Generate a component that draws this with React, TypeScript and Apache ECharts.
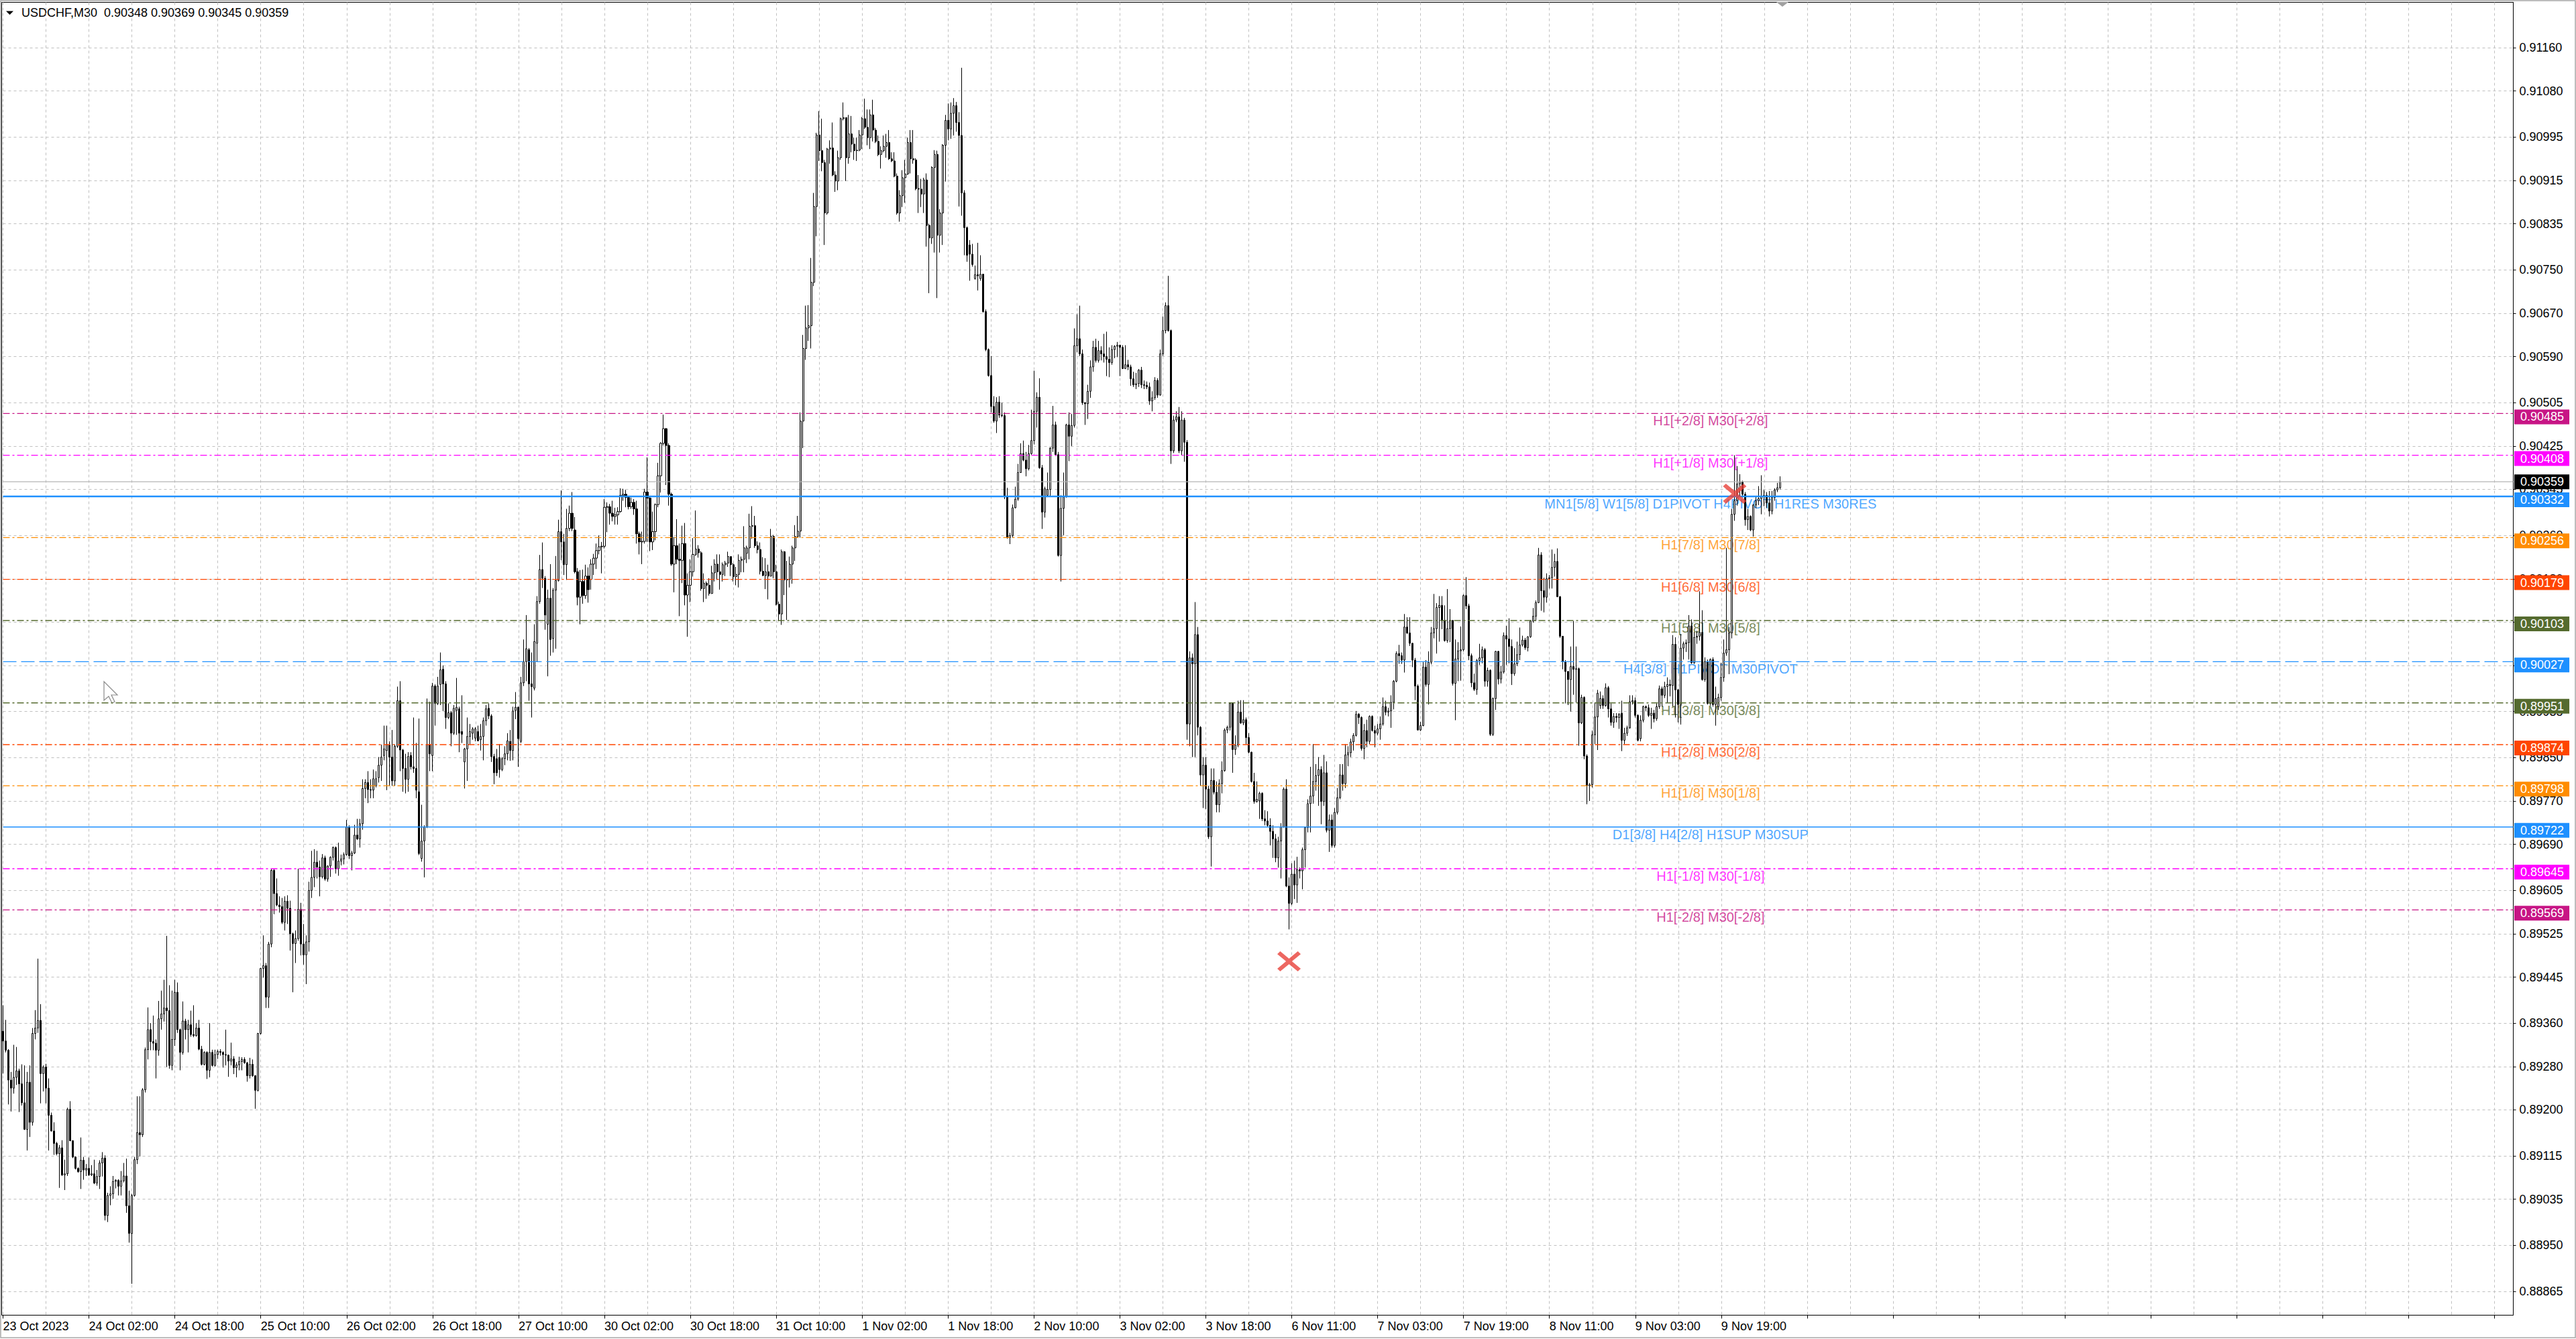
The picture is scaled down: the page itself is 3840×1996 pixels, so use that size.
import { useEffect, useRef } from 'react';
import * as echarts from 'echarts';

// ---------- chart data ----------
const symbolName = 'USDCHF,M30';
const lastQuote = [0.90348, 0.90369, 0.90345, 0.90359]; // open high low close of the last bar
const bidPrice = 0.90359;

const timeLabels = [
  '23 Oct 2023', '24 Oct 02:00', '24 Oct 18:00', '25 Oct 10:00', '26 Oct 02:00', '26 Oct 18:00',
  '27 Oct 10:00', '30 Oct 02:00', '30 Oct 18:00', '31 Oct 10:00', '1 Nov 02:00', '1 Nov 18:00',
  '2 Nov 10:00', '3 Nov 02:00', '3 Nov 18:00', '6 Nov 11:00', '7 Nov 03:00', '7 Nov 19:00',
  '8 Nov 11:00', '9 Nov 03:00', '9 Nov 19:00',
];

const yTicks = [
  0.9116, 0.9108, 0.90995, 0.90915, 0.90835, 0.9075, 0.9067, 0.9059, 0.90505, 0.90425,
  0.90345, 0.9026, 0.9018, 0.901, 0.9002, 0.89935, 0.8985, 0.8977, 0.8969, 0.89605,
  0.89525, 0.89445, 0.8936, 0.8928, 0.892, 0.89115, 0.89035, 0.8895, 0.88865,
];

const levelPrices = [0.90485, 0.90408, 0.90332, 0.90256, 0.90179, 0.90103, 0.90027, 0.89951, 0.89874, 0.89798, 0.89722, 0.89645, 0.89569];
const levelNames = [
  'H1[+2/8] M30[+2/8]', 'H1[+1/8] M30[+1/8]', 'MN1[5/8] W1[5/8] D1PIVOT H4PIVOT H1RES M30RES',
  'H1[7/8] M30[7/8]', 'H1[6/8] M30[6/8]', 'H1[5/8] M30[5/8]', 'H4[3/8] H1PIVOT M30PIVOT',
  'H1[3/8] M30[3/8]', 'H1[2/8] M30[2/8]', 'H1[1/8] M30[1/8]', 'D1[3/8] H4[2/8] H1SUP M30SUP',
  'H1[-1/8] M30[-1/8]', 'H1[-2/8] M30[-2/8]',
];
const levelColors = ['#C71585', '#FF00FF', '#1E90FF', '#FF8C00', '#FF4500', '#556B2F', '#1E90FF', '#556B2F', '#FF4500', '#FF8C00', '#1E90FF', '#FF00FF', '#C71585'];
const levelKinds = ['dashdot', 'dashdot', 'solid', 'dashdot', 'dashdot', 'dashdot', 'dashed', 'dashdot', 'dashdot', 'dashdot', 'solid', 'dashdot', 'dashdot'];
const levelWidths = [1.4, 1.4, 2.6, 1.4, 1.4, 1.4, 1.4, 1.4, 1.4, 1.4, 1.6, 1.4, 1.4];

const crossMarks = [[479, 0.89474], [645, 0.90337]];

// OHLC bars in 1e-5 units: [open, high, low, close], 32 bars per block
const oct23_10 = [
  [89345,89393,89267,89327],[89327,89366,89306,89310],[89310,89312,89210,89255],[89255,89270,89197,89240],
  [89240,89320,89230,89260],[89260,89316,89246,89272],[89272,89276,89196,89248],[89248,89284,89208,89213],
  [89213,89282,89163,89164],[89164,89270,89125,89251],[89251,89282,89150,89177],[89177,89351,89171,89341],
  [89341,89384,89330,89351],[89351,89479,89342,89365],[89365,89395,89212,89267],[89267,89282,89234,89279],
  [89279,89285,89212,89240],[89240,89258,89125,89190],[89190,89195,89160,89161],[89161,89177,89117,89138],
  [89138,89141,89116,89119],[89119,89135,89056,89130],[89130,89144,89078,89080],[89080,89108,89052,89082],
  [89082,89204,89078,89201],[89201,89216,89142,89143],[89143,89144,89111,89113],[89113,89114,89090,89092],
  [89092,89094,89084,89086],[89086,89149,89054,89107],[89107,89113,89071,89089],[89089,89100,89078,89092],
];
const oct24_02 = [
  [89092,89112,89078,89080],[89080,89098,89078,89082],[89082,89108,89063,89065],[89065,89089,89060,89077],
  [89077,89107,89054,89102],[89102,89122,89077,89111],[89111,89116,88996,89005],[89005,89047,88993,89042],
  [89042,89059,89024,89045],[89045,89078,89036,89068],[89068,89072,89055,89070],[89070,89072,89042,89059],
  [89059,89087,89042,89069],[89069,89102,89066,89078],[89078,89110,89010,89023],[89023,89051,88955,88972],
  [88972,89045,88879,89042],[89042,89113,89040,89108],[89108,89225,89100,89158],[89158,89225,89114,89154],
  [89154,89240,89150,89237],[89237,89315,89232,89311],[89311,89389,89293,89348],[89348,89360,89310,89326],
  [89326,89374,89310,89323],[89323,89330,89258,89310],[89310,89401,89300,89368],[89368,89420,89348,89377],
  [89377,89440,89363,89388],[89388,89521,89279,89383],[89383,89430,89276,89282],[89282,89420,89273,89330],
];
const oct24_18 = [
  [89330,89440,89318,89417],[89417,89435,89342,89348],[89348,89350,89273,89306],[89306,89400,89302,89364],
  [89364,89368,89330,89348],[89348,89366,89306,89357],[89357,89383,89335,89339],[89339,89393,89334,89337],
  [89337,89360,89335,89351],[89351,89366,89310,89312],[89312,89318,89282,89284],[89284,89308,89282,89306],
  [89306,89308,89257,89273],[89273,89360,89260,89306],[89306,89311,89280,89282],[89282,89311,89280,89302],
  [89302,89311,89294,89308],[89308,89312,89300,89306],[89306,89308,89278,89302],[89302,89348,89282,89301],
  [89301,89302,89261,89290],[89290,89324,89282,89294],[89294,89299,89266,89278],[89278,89288,89260,89283],
  [89283,89298,89273,89289],[89289,89297,89273,89293],[89293,89297,89285,89287],[89287,89288,89252,89263],
  [89263,89296,89258,89284],[89284,89293,89261,89263],[89263,89264,89202,89236],[89236,89342,89234,89341],
];
const oct25_10 = [
  [89341,89462,89339,89461],[89461,89522,89444,89466],[89466,89471,89388,89408],[89408,89510,89388,89506],
  [89506,89645,89500,89642],[89642,89645,89561,89599],[89599,89627,89576,89578],[89578,89594,89564,89575],
  [89575,89591,89543,89546],[89546,89594,89531,89585],[89585,89596,89543,89572],[89572,89586,89494,89525],
  [89525,89527,89417,89507],[89507,89531,89471,89516],[89516,89645,89512,89570],[89570,89582,89485,89506],
  [89506,89543,89468,89486],[89486,89522,89432,89510],[89510,89621,89492,89605],[89605,89678,89591,89629],
  [89629,89681,89611,89657],[89657,89678,89627,89648],[89648,89660,89594,89630],[89630,89672,89627,89665],
  [89665,89669,89623,89626],[89626,89651,89621,89650],[89650,89668,89630,89666],[89666,89686,89660,89684],
  [89684,89686,89636,89645],[89645,89693,89632,89659],[89659,89671,89651,89663],[89663,89675,89653,89671],
];
const oct26_02 = [
  [89671,89735,89669,89722],[89722,89725,89663,89669],[89669,89678,89642,89674],[89674,89726,89672,89707],
  [89707,89737,89698,89700],[89700,89737,89684,89728],[89728,89810,89717,89793],[89793,89810,89775,89804],
  [89804,89825,89766,89791],[89791,89810,89775,89790],[89790,89828,89775,89811],[89798,89825,89795,89811],
  [89813,89851,89804,89836],[89836,89874,89807,89851],[89854,89909,89845,89866],[89863,89909,89790,89874],
  [89873,89880,89798,89851],[89851,89901,89798,89807],[89807,89874,89798,89871],[89871,89981,89868,89955],
  [89955,89991,89825,89864],[89864,89866,89787,89830],[89830,89857,89784,89810],[89810,89860,89787,89852],
  [89854,89860,89828,89833],[89833,89924,89822,89830],[89830,89877,89775,89790],[89787,89922,89670,89673],
  [89664,89763,89658,89696],[89696,89725,89629,89722],[89722,89959,89720,89874],[89874,89953,89825,89857],
];
const oct26_18 = [
  [89854,89988,89825,89982],[89982,89985,89909,89950],[89950,89999,89947,89982],[89985,90044,89947,90012],
  [90013,90020,89936,89986],[89986,89991,89903,89924],[89924,89950,89921,89933],[89933,89936,89871,89895],
  [89895,89947,89892,89941],[89937,89997,89892,89943],[89940,89944,89860,89895],[89898,89965,89877,89893],
  [89842,89868,89793,89866],[89866,89924,89807,89889],[89889,89912,89874,89898],[89895,89906,89883,89903],
  [89886,89906,89880,89903],[89898,89909,89880,89881],[89883,89912,89863,89889],[89889,89924,89845,89918],
  [89918,89947,89909,89940],[89941,89950,89921,89927],[89927,89930,89842,89852],[89852,89857,89801,89822],
  [89848,89866,89816,89822],[89850,89875,89813,89828],[89828,89851,89825,89848],[89848,89871,89836,89857],
  [89857,89895,89845,89881],[89880,89901,89844,89863],[89863,89944,89845,89936],[89937,89971,89921,89943],
];
const oct27_10 = [
  [89943,89944,89833,89885],[89880,89999,89877,89988],[89988,90068,89982,90027],[90027,90113,89991,90051],
  [90049,90052,89955,89986],[89986,90044,89924,89981],[89978,90096,89974,90064],[90061,90148,90027,90138],
  [90138,90224,90134,90197],[90197,90247,90163,90181],[90181,90185,90086,90113],[90096,90160,90000,90144],
  [90144,90207,90038,90068],[90070,90163,90044,90159],[90159,90222,90051,90177],[90177,90289,90175,90267],
  [90267,90343,90214,90248],[90248,90263,90187,90206],[90206,90309,90178,90273],[90273,90315,90268,90301],
  [90301,90340,90268,90273],[90270,90294,90190,90193],[90193,90200,90131,90146],[90146,90196,90096,90175],
  [90175,90197,90134,90149],[90149,90206,90143,90185],[90185,90201,90136,90160],[90179,90216,90160,90207],
  [90207,90226,90187,90218],[90218,90245,90198,90232],[90232,90260,90225,90239],[90239,90248,90190,90240],
];
const oct30_02 = [
  [90240,90327,90236,90312],[90312,90321,90266,90313],[90313,90318,90280,90301],[90301,90324,90286,90295],
  [90295,90311,90280,90298],[90298,90312,90280,90304],[90304,90347,90302,90334],[90334,90346,90324,90336],
  [90336,90344,90312,90330],[90330,90333,90308,90313],[90313,90330,90309,90321],[90321,90327,90298,90309],
  [90309,90324,90245,90263],[90263,90267,90225,90248],[90248,90267,90207,90249],[90249,90346,90245,90340],
  [90340,90404,90248,90329],[90329,90333,90231,90248],[90248,90304,90233,90267],[90267,90319,90251,90317],
  [90317,90394,90312,90370],[90370,90432,90339,90430],[90430,90483,90426,90457],[90457,90458,90353,90426],
  [90426,90430,90315,90336],[90336,90339,90204,90207],[90207,90257,90155,90241],[90241,90290,90207,90216],
  [90216,90245,90111,90214],[90214,90278,90172,90245],[90245,90283,90131,90150],[90150,90190,90073,90168],
];
const oct30_18 = [
  [90168,90216,90137,90193],[90193,90255,90184,90225],[90225,90306,90222,90235],[90235,90242,90219,90228],
  [90228,90231,90158,90162],[90162,90190,90137,90172],[90172,90175,90143,90168],[90168,90181,90149,90153],
  [90153,90204,90152,90191],[90191,90216,90175,90207],[90207,90225,90178,90193],[90193,90225,90160,90188],
  [90188,90210,90175,90206],[90206,90213,90185,90209],[90209,90230,90202,90221],[90221,90221,90185,90206],
  [90206,90209,90175,90184],[90184,90202,90168,90188],[90188,90225,90164,90214],[90214,90221,90192,90216],
  [90216,90277,90192,90237],[90227,90241,90209,90237],[90237,90300,90216,90277],[90277,90314,90254,90278],
  [90278,90296,90237,90241],[90241,90249,90227,90234],[90234,90247,90188,90194],[90194,90220,90185,90186],
  [90186,90218,90161,90193],[90193,90206,90142,90185],[90185,90272,90184,90258],[90258,90261,90181,90193],
];
const oct31_10 = [
  [90193,90206,90131,90133],[90133,90138,90102,90115],[90115,90234,90095,90230],[90230,90231,90150,90178],
  [90178,90213,90104,90179],[90179,90221,90164,90207],[90207,90241,90171,90237],[90237,90279,90213,90258],
  [90258,90296,90256,90268],[90268,90487,90256,90471],[90471,90630,90421,90605],[90605,90684,90584,90643],
  [90643,90685,90619,90647],[90647,90772,90605,90727],[90727,90892,90720,90867],[90867,91003,90812,90999],
  [90999,91043,90951,90970],[90970,91029,90932,90948],[90948,90953,90796,90855],[90855,90975,90852,90973],
  [90973,90989,90946,90975],[90975,91022,90923,90925],[90925,90932,90894,90914],[90914,90970,90897,90957],
  [90957,91031,90953,91029],[91029,91059,91026,91031],[91031,91031,90914,90957],[90957,91036,90946,91001],
  [91001,91034,90967,90982],[90982,90994,90953,90970],[90970,90994,90951,90971],[90971,91008,90969,90999],
];
const nov01_02 = [
  [90999,91032,90973,91029],[91029,91066,91010,91013],[91013,91046,90980,90994],[90994,91046,90973,91036],
  [91036,91064,90987,91008],[91008,91012,90984,90987],[90987,90998,90960,90963],[90963,90978,90937,90970],
  [90970,90998,90967,90978],[90978,91001,90957,90985],[90985,91008,90953,90955],[90955,90967,90949,90951],
  [90951,90967,90921,90923],[90923,90928,90852,90855],[90855,90897,90839,90887],[90887,90934,90866,90920],
  [90920,90953,90874,90927],[90927,90994,90925,90985],[90985,91008,90928,90955],[90955,91008,90946,90953],
  [90953,90956,90897,90900],[90900,90925,90855,90899],[90899,90918,90866,90890],[90890,90920,90855,90916],
  [90916,90928,90793,90832],[90832,90835,90707,90809],[90809,90941,90798,90939],[90939,90971,90782,90963],
  [90963,90970,90698,90814],[90814,90862,90782,90855],[90855,90982,90796,90980],[90980,91036,90913,91026],
];
const nov01_18 = [
  [91026,91057,90989,91010],[91010,91059,90992,91039],[91039,91067,90998,91053],[91053,91060,91005,91022],
  [91022,91041,90867,90998],[90998,91123,90850,90892],[90892,90897,90777,90828],[90828,90830,90765,90777],
  [90796,90805,90730,90779],[90779,90798,90756,90760],[90734,90758,90732,90741],[90741,90800,90712,90739],
  [90734,90777,90730,90742],[90742,90742,90671,90673],[90673,90677,90600,90603],[90603,90605,90553,90555],
  [90555,90591,90487,90498],[90498,90517,90468,90471],[90471,90515,90449,90506],[90506,90517,90477,90482],
  [90482,90505,90478,90481],[90481,90487,90327,90331],[90331,90348,90254,90256],[90256,90265,90244,90260],
  [90260,90317,90256,90311],[90311,90350,90310,90327],[90327,90392,90324,90376],[90376,90430,90376,90411],
  [90411,90435,90397,90399],[90399,90414,90369,90383],[90383,90427,90380,90411],[90411,90492,90409,90435],
];
const nov02_10 = [
  [90435,90564,90428,90489],[90489,90524,90459,90515],[90515,90550,90383,90385],[90385,90390,90272,90303],
  [90303,90350,90293,90346],[90334,90376,90331,90345],[90345,90423,90331,90421],[90421,90499,90414,90464],
  [90464,90470,90407,90409],[90409,90414,90221,90223],[90223,90334,90175,90310],[90310,90376,90260,90331],
  [90331,90466,90330,90464],[90464,90487,90397,90443],[90443,90484,90425,90463],[90463,90642,90459,90610],
  [90610,90668,90598,90623],[90623,90684,90591,90595],[90595,90603,90501,90505],[90505,90506,90464,90503],
  [90503,90538,90475,90526],[90526,90583,90514,90571],[90571,90619,90562,90607],[90607,90623,90579,90583],
  [90583,90619,90579,90601],[90601,90609,90583,90595],[90595,90632,90579,90590],[90590,90636,90554,90585],
  [90585,90607,90552,90579],[90579,90611,90575,90603],[90603,90611,90587,90609],[90609,90617,90589,90611],
];
const nov03_02 = [
  [90611,90612,90554,90607],[90607,90611,90567,90568],[90568,90611,90567,90575],[90575,90584,90565,90571],
  [90571,90575,90536,90549],[90549,90562,90534,90538],[90538,90560,90530,90540],[90540,90567,90534,90565],
  [90565,90571,90532,90538],[90538,90546,90530,90537],[90537,90544,90530,90534],[90534,90542,90501,90508],
  [90508,90526,90489,90514],[90514,90552,90510,90546],[90546,90550,90514,90519],[90519,90603,90518,90595],
  [90595,90664,90591,90638],[90638,90690,90633,90684],[90684,90739,90636,90638],[90638,90640,90392,90416],
  [90416,90481,90412,90473],[90473,90489,90469,90479],[90479,90497,90412,90416],[90416,90489,90408,90473],
  [90473,90477,90396,90432],[90432,90436,89883,89912],[89912,90046,89871,90034],[90034,90042,89851,90023],
  [90023,90137,89851,90077],[90077,90091,89891,89906],[89906,89908,89798,89818],[89818,89851,89757,89836],
];
const nov03_18 = [
  [89836,89851,89755,89792],[89792,89798,89700,89704],[89704,89830,89649,89808],[89808,89830,89782,89786],
  [89786,89806,89749,89763],[89763,89810,89749,89802],[89802,89843,89784,89826],[89826,89904,89824,89901],
  [89901,89909,89895,89906],[89906,89952,89900,89950],[89950,89952,89822,89865],[89865,89891,89855,89873],
  [89873,89955,89869,89934],[89934,89956,89912,89914],[89914,89956,89910,89920],[89920,89924,89875,89887],
  [89887,89895,89858,89860],[89860,89861,89804,89806],[89806,89822,89765,89769],[89769,89806,89767,89773],
  [89770,89787,89737,89784],[89784,89786,89733,89737],[89737,89753,89725,89733],[89733,89751,89722,89725],
  [89725,89738,89688,89714],[89714,89725,89665,89700],[89700,89709,89657,89665],[89665,89704,89647,89696],
  [89696,89729,89627,89722],[89722,89795,89721,89792],[89792,89810,89611,89613],[89613,89629,89533,89581],
];
const nov06_11 = [
  [89581,89655,89578,89635],[89635,89660,89589,89615],[89615,89667,89582,89643],[89643,89647,89627,89641],
  [89641,89684,89607,89680],[89680,89722,89647,89721],[89721,89773,89712,89765],[89765,89833,89712,89779],
  [89779,89875,89765,89806],[89806,89838,89789,89817],[89817,89851,89761,89828],[89828,89834,89727,89769],
  [89769,89855,89761,89822],[89822,89843,89712,89716],[89716,89745,89676,89735],[89735,89745,89684,89688],
  [89688,89757,89684,89749],[89749,89794,89745,89776],[89776,89838,89773,89818],[89818,89838,89789,89802],
  [89802,89875,89794,89855],[89855,89871,89834,89859],[89859,89885,89851,89879],[89879,89895,89863,89891],
  [89891,89936,89889,89930],[89930,89932,89912,89924],[89924,89926,89863,89867],[89867,89912,89847,89900],
  [89900,89920,89869,89880],[89880,89928,89875,89926],[89926,89928,89898,89900],[89900,89909,89869,89895],
];
const nov07_03 = [
  [89895,89912,89891,89903],[89903,89926,89883,89912],[89912,89961,89909,89944],[89944,89955,89928,89934],
  [89934,89942,89926,89936],[89936,89965,89905,89952],[89952,89993,89939,89991],[89991,90046,89989,90042],
  [90042,90058,90023,90038],[90038,90044,90023,90030],[90030,90115,90007,90091],[90091,90109,90078,90080],
  [90080,90109,90056,90061],[90061,90062,90017,90030],[90030,90034,89956,89982],[89982,89985,89900,89901],
  [89901,89916,89899,89909],[89909,90026,89908,90017],[90017,90030,89981,89985],[89985,90046,89948,90026],
  [90026,90091,90022,90080],[90080,90152,90070,90088],[90088,90135,90042,90127],[90127,90148,90064,90131],
  [90131,90148,90087,90103],[90103,90131,90064,90066],[90066,90161,90062,90088],[90088,90124,90063,90103],
  [90103,90104,89983,89987],[89987,90068,89919,90032],[90032,90063,89991,90047],[90047,90092,89992,90049],
];
const nov07_19 = [
  [90049,90151,90046,90149],[90149,90183,90124,90130],[90130,90134,90030,90038],[90038,90042,89980,89988],
  [89988,90005,89973,89976],[89976,90032,89966,90029],[90029,90060,90021,90034],[90034,90055,90024,90049],
  [90049,90052,89981,89991],[89991,90016,89981,90011],[90011,90013,89890,89893],[89893,89961,89890,89959],
  [89959,90047,89938,90046],[90046,90047,89985,89995],[89995,90019,89987,90008],[90008,90081,90005,90075],
  [90075,90093,90021,90069],[90069,90107,90024,90055],[90055,90068,89984,90005],[90005,90052,90001,90023],
  [90023,90064,90019,90040],[90040,90090,90030,90058],[90058,90075,90055,90067],[90067,90071,90049,90053],
  [90053,90074,90046,90073],[90073,90104,90071,90102],[90102,90126,90099,90111],[90111,90140,90102,90136],
  [90136,90237,90135,90224],[90224,90229,90121,90158],[90158,90182,90118,90146],[90146,90190,90136,90180],
];
const nov08_11 = [
  [90180,90187,90162,90182],[90182,90234,90162,90201],[90201,90226,90184,90212],[90212,90236,90146,90147],
  [90147,90148,90071,90074],[90074,90074,90013,90027],[90027,90030,89950,90009],[90009,90010,89947,89994],
  [89994,90055,89935,90018],[90018,90102,89966,90013],[90013,90055,89952,90014],[90014,90016,89872,89914],
  [89914,89966,89912,89961],[89961,89963,89847,89853],[89853,89856,89764,89798],[89798,89803,89770,89800],
  [89800,89900,89795,89892],[89892,89952,89875,89925],[89925,89975,89864,89969],[89946,89972,89940,89959],
  [89959,89965,89940,89946],[89946,89987,89944,89979],[89979,89982,89924,89940],[89940,89950,89909,89915],
  [89915,89932,89905,89926],[89926,89932,89915,89924],[89924,89932,89903,89930],[89932,89955,89862,89882],
  [89882,89905,89875,89895],[89895,89909,89890,89905],[89905,89965,89903,89953],[89953,89965,89948,89955],
];
const nov09_03 = [
  [89955,89961,89924,89928],[89928,89930,89880,89882],[89885,89928,89880,89919],[89919,89946,89915,89944],
  [89944,89946,89936,89942],[89942,89948,89925,89928],[89928,89942,89903,89932],[89932,89938,89915,89922],
  [89922,89950,89918,89944],[89944,89983,89940,89977],[89977,89981,89944,89965],[89965,89990,89960,89981],
  [89981,89998,89952,89985],[89985,89994,89963,89983],[89983,90076,89944,90059],[90059,90072,89924,89975],
  [89975,89977,89915,89948],[89948,90078,89911,90052],[90052,90064,90031,90060],[90060,90068,90045,90062],
  [90062,90113,90031,90093],[90093,90105,90023,90025],[90025,90082,90023,90072],[90072,90084,90060,90074],
  [90074,90157,90066,90081],[90081,90122,89992,89994],[89994,90035,89990,90027],[90027,90031,89948,89950],
  [89950,90033,89946,90031],[90031,90035,89944,89948],[89948,89981,89909,89959],[89944,89968,89938,89961],
];
const nov09_19 = [
  [89961,90025,89955,89998],[89998,90068,89990,90043],[90043,90237,90038,90049],[90049,90091,90004,90080],
  [90080,90309,90070,90299],[90299,90408,90287,90324],[90324,90388,90315,90355],[90355,90373,90332,90359],
  [90359,90361,90330,90336],[90336,90340,90278,90289],[90289,90309,90270,90295],[90295,90297,90268,90270],
  [90270,90318,90258,90316],[90316,90332,90310,90324],[90324,90351,90316,90328],[90328,90371,90299,90332],
  [90332,90344,90314,90334],[90334,90340,90311,90320],[90320,90342,90295,90305],[90305,90342,90299,90330],
  [90330,90347,90324,90344],[90344,90357,90340,90348],[90348,90369,90345,90359],
];

// ---------- layout / style constants ----------
const SLOT_COUNT = 936;      // bar slots visible on the time axis (incl. chart shift)
const LAST_SLOT = SLOT_COUNT - 1;
const BARS_PER_LABEL = 32;
const BARS_PER_GRID = 16;
const LEVEL_TEXT_SLOT = 636; // slot where level captions are centred
const FONT = "'Liberation Sans', Arial, sans-serif";
const GRID_COLOR = '#C0C0C0';
const DASH_TYPES: Record<string, any> = { dashdot: [10, 4, 3, 4], dashed: [20, 7], solid: 'solid' };

const blocks = [
  oct23_10, oct24_02, oct24_18, oct25_10, oct26_02, oct26_18, oct27_10, oct30_02, oct30_18, oct31_10,
  nov01_02, nov01_18, nov02_10, nov03_02, nov03_18, nov06_11, nov07_03, nov07_19, nov08_11, nov09_03, nov09_19,
];

function hLineSeries(price: number, color: string, type: any, width: number, tagBg: string, dy: number, z: number) {
  return {
    type: 'line',
    silent: true,
    animation: false,
    symbol: 'none',
    showSymbol: false,
    clip: false,
    z,
    lineStyle: { color, type, width, opacity: 1 },
    data: [[0, price], [LAST_SLOT, price]],
    endLabel: {
      show: true,
      valueAnimation: false,
      distance: 1.5,
      offset: [0, dy],
      formatter: price.toFixed(5),
      color: '#fff',
      backgroundColor: tagBg,
      padding: [2, 8, 2, 9],
      fontSize: 18,
      fontFamily: FONT,
    },
  };
}

export default function App() {
  const ref = useRef<HTMLDivElement>(null);

  useEffect(() => {
    document.body.style.margin = '0';
    document.body.style.overflow = 'hidden';
    const el = ref.current;
    if (!el) return;
    const chart = echarts.init(el, null, { renderer: 'svg' });

    const bars = blocks.flat();
    const candles = bars.map(([o, h, l, c]) => [o / 1e5, c / 1e5, l / 1e5, h / 1e5]);
    const categories = Array.from({ length: SLOT_COUNT }, (_, i) => String(i));

    const levelSeries = levelPrices.map((p, i) =>
      hLineSeries(p, levelColors[i], DASH_TYPES[levelKinds[i]], levelWidths[i], levelColors[i], 5, 4),
    );
    const bidSeries = hLineSeries(bidPrice, '#B4B4B4', 'solid', 1.2, '#000', 0, 4);

    const titleText = `${symbolName}  ${lastQuote.map((v) => v.toFixed(5)).join(' ')}`;

    chart.setOption({
      animation: false,
      backgroundColor: '#ffffff',
      grid: { left: 4.5, right: 93.5, top: 3.5, bottom: 35.5, containLabel: false },
      xAxis: {
        type: 'category',
        data: categories,
        boundaryGap: false,
        axisLine: { show: true, lineStyle: { color: '#000', width: 1 } },
        axisTick: { show: true, interval: BARS_PER_LABEL - 1, length: 5, lineStyle: { color: '#000' } },
        axisLabel: {
          interval: BARS_PER_LABEL - 1,
          align: 'left',
          margin: 7,
          fontSize: 18,
          fontFamily: FONT,
          color: '#000',
          formatter: (_v: string, idx: number) => timeLabels[idx / BARS_PER_LABEL] ?? '',
        },
        splitLine: { show: true, interval: BARS_PER_GRID - 1, lineStyle: { color: GRID_COLOR, type: [4, 4], width: 1 } },
      },
      yAxis: {
        type: 'value',
        position: 'right',
        min: 0.888211,
        max: 0.912437,
        axisLine: { show: true, lineStyle: { color: '#000', width: 1 } },
        axisTick: { show: true, length: 4, customValues: yTicks, lineStyle: { color: '#000' } },
        axisLabel: {
          customValues: yTicks,
          margin: 9,
          fontSize: 18,
          fontFamily: FONT,
          color: '#000',
          formatter: (v: number) => v.toFixed(5),
        },
        splitLine: { show: true, lineStyle: { color: GRID_COLOR, type: [4, 4], width: 1 } },
      },
      series: [
        {
          type: 'scatter',
          silent: true,
          symbol: 'rect',
          symbolSize: 1,
          z: 1,
          itemStyle: { color: 'rgba(0,0,0,0)' },
          data: levelPrices.map((p, i) => ({
            value: [LEVEL_TEXT_SLOT, p],
            name: levelNames[i],
            label: {
              show: true,
              position: 'inside',
              offset: [0, 11],
              formatter: levelNames[i],
              color: levelColors[i],
              fontSize: 20,
              fontFamily: FONT,
            },
          })),
        },
        {
          type: 'candlestick',
          data: candles,
          barWidth: 2.6,
          large: false,
          progressive: 0,
          silent: true,
          z: 3,
          itemStyle: {
            color: '#ffffff',
            color0: '#000000',
            borderColor: '#000000',
            borderColor0: '#000000',
            borderColorDoji: '#000000',
            borderWidth: 1,
          },
        },
        ...levelSeries,
        bidSeries,
        {
          type: 'scatter',
          silent: true,
          symbol: 'path://M0,3 L3,0 L12,8 L21,0 L24,3 L15,11 L24,19 L21,22 L12,14 L3,22 L0,19 L9,11 Z',
          symbolSize: [35, 30],
          symbolKeepAspect: false,
          itemStyle: { color: '#E8413A' },
          z: 10,
          data: crossMarks,
        },
      ],
      graphic: [
        {
          type: 'rect',
          silent: true,
          shape: { x: 1, y: 1, width: 3838, height: 1993 },
          style: { fill: 'none', stroke: '#A8A8A8', lineWidth: 1.5 },
        },
        {
          type: 'rect',
          silent: true,
          shape: { x: 2.5, y: 3.5, width: 3744, height: 1957 },
          style: { fill: 'none', stroke: '#000', lineWidth: 1 },
        },
        {
          type: 'polygon',
          silent: true,
          shape: { points: [[9, 16.5], [20, 16.5], [14.5, 22]] },
          style: { fill: '#000' },
        },
        {
          type: 'text',
          silent: true,
          x: 32,
          y: 19,
          style: { text: titleText, fill: '#000', font: `18px ${FONT}`, verticalAlign: 'middle', align: 'left' },
        },
        {
          type: 'polygon',
          silent: true,
          shape: { points: [[2648, 3], [2666, 3], [2657, 10]] },
          style: { fill: '#A0A0A0' },
        },
        {
          type: 'polygon',
          silent: true,
          shape: { points: [[155, 1016], [155, 1044], [162, 1038], [167, 1048], [171, 1046], [166, 1036], [175, 1036]] },
          style: { fill: '#fff', stroke: '#8A8A8A', lineWidth: 1.2 },
        },
      ],
    });

    return () => chart.dispose();
  }, []);

  return <div ref={ref} style={{ width: 3840, height: 1996 }} />;
}
